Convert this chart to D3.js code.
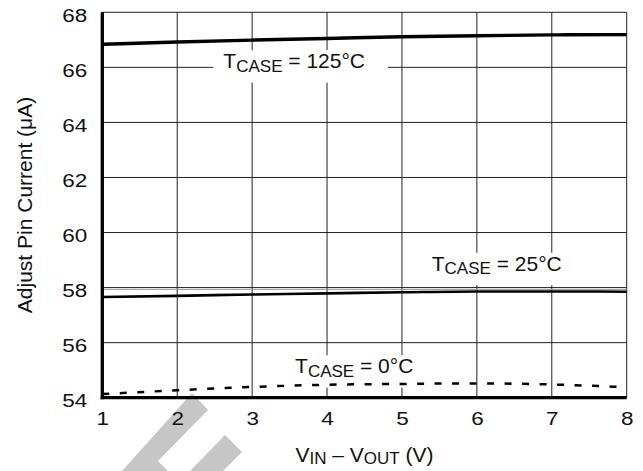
<!DOCTYPE html>
<html>
<head>
<meta charset="utf-8">
<script src="https://cdn.jsdelivr.net/npm/d3@7"></script>
<style>
    body { margin: 0; background: #fff; }
    svg { font-family: "Liberation Sans", Arial, Helvetica, sans-serif; }
</style>
</head>
<body>
<svg id="chart"></svg>
<script>
// values
const vDiff = [1, 2, 3, 4, 5, 6, 7, 8];
const case125 = [66.84, 66.92, 66.99, 67.05, 67.11, 67.15, 67.18, 67.19];
const case25 = [57.66, 57.70, 57.75, 57.79, 57.83, 57.86, 57.86, 57.85];
const case0 = [54.13, 54.27, 54.39, 54.47, 54.50, 54.52, 54.48, 54.38];

const xTicks = [1, 2, 3, 4, 5, 6, 7, 8];
const yTicks = [54, 56, 58, 60, 62, 64, 66, 68];
const noteTemps = ["125°C", "25°C", "0°C"];

const width = 643, height = 471;
const margin = { top: 12.3, right: 16.3, bottom: 73.3, left: 102.3 };

const svg = d3.select("#chart").attr("width", width).attr("height", height);

const x = d3.scaleLinear().domain([1, 8]).range([margin.left, width - margin.right]);
const y = d3.scaleLinear().domain([54, 68]).range([height - margin.bottom, margin.top]);

// faint watermark in the lower left corner
const mark = svg.append("g").attr("fill", "#c6c6c6");
mark.append("polygon").attr("points", "192,393 208,410 158,461 168,471 122,471");
mark.append("polygon").attr("points", "225,435 242,452 223,471 190,471");

// grid
const grid = svg.append("g").attr("stroke", "#222").attr("stroke-width", 1);
grid.selectAll(".h").data(yTicks).join("line")
    .attr("x1", x(1)).attr("x2", x(8))
    .attr("y1", d => y(d)).attr("y2", d => y(d));
grid.selectAll(".v").data(xTicks).join("line")
    .attr("x1", d => x(d)).attr("x2", d => x(d))
    .attr("y1", y(54)).attr("y2", y(68));
// the 58 line is printed doubled in the source
grid.append("line")
    .attr("x1", x(1)).attr("x2", x(8))
    .attr("y1", y(58) + 1.8).attr("y2", y(58) + 1.8)
    .attr("stroke", "#999");

// annotations (white boxes knock out the grid)
const notes = [
    { temp: noteTemps[0], x: 2.616, y: 65.97, padL: 10, padR: 23 },
    { temp: noteTemps[1], x: 5.398, y: 58.61, padL: 6, padR: 6 },
    { temp: noteTemps[2], x: 3.573, y: 54.89, padL: 6, padR: 6 }
];
const boxLayer = svg.append("g");
const lineLayer = svg.append("g");
const textLayer = svg.append("g");

notes.forEach(n => {
    const t = textLayer.append("text")
        .attr("x", x(n.x)).attr("y", y(n.y))
        .attr("font-size", 21).attr("fill", "#111");
    t.append("tspan").text("T");
    t.append("tspan").attr("font-size", 17).attr("dy", 3.4).text("CASE");
    t.append("tspan").attr("dy", -3.4).text(" = " + n.temp);
    const b = t.node().getBBox();
    boxLayer.append("rect")
        .attr("x", b.x - n.padL).attr("y", b.y + 1)
        .attr("width", b.width + n.padL + n.padR).attr("height", b.height + 6)
        .attr("fill", "#fff");
});

// curves
const line = d3.line()
    .x((d, i) => x(vDiff[i]))
    .y(d => y(d))
    .curve(d3.curveMonotoneX);

lineLayer.append("path").datum(case125).attr("d", line)
    .attr("fill", "none").attr("stroke", "#000").attr("stroke-width", 3.4);
lineLayer.append("path").datum(case25).attr("d", line)
    .attr("fill", "none").attr("stroke", "#000").attr("stroke-width", 2.6);
lineLayer.append("path").datum(case0).attr("d", line)
    .attr("fill", "none").attr("stroke", "#000").attr("stroke-width", 2.5)
    .attr("stroke-dasharray", "7,10.5");

// heavy left and bottom axes
svg.append("line")
    .attr("x1", x(1)).attr("x2", x(1)).attr("y1", y(68)).attr("y2", y(54) + 1.6)
    .attr("stroke", "#000").attr("stroke-width", 3.3);
svg.append("line")
    .attr("x1", x(1) - 1.6).attr("x2", x(8)).attr("y1", y(54)).attr("y2", y(54))
    .attr("stroke", "#000").attr("stroke-width", 3.3);

// tick labels
const yAxis = svg.append("g")
    .attr("transform", `translate(${margin.left}, 0)`)
    .call(d3.axisLeft(y).tickValues(yTicks).tickSize(0).tickFormat(d3.format("d")));
yAxis.select(".domain").remove();
yAxis.selectAll("text")
    .attr("x", 0).attr("dy", "9.2")
    .attr("transform", "translate(-15, 0) scale(1.25, 1)")
    .attr("font-size", 18).attr("font-family", null).attr("fill", "#111");

const xAxis = svg.append("g")
    .attr("transform", `translate(0, ${y(54)})`)
    .call(d3.axisBottom(x).tickValues(xTicks).tickSize(0).tickFormat(d3.format("d")));
xAxis.select(".domain").remove();
xAxis.selectAll("text")
    .attr("y", 0).attr("dy", 0)
    .attr("transform", "translate(0, 27.3) scale(1.25, 1)")
    .attr("font-size", 18).attr("font-family", null).attr("fill", "#111");

// axis titles
const xTitle = svg.append("text")
    .attr("x", (x(1) + x(8)) / 2).attr("y", 461.7)
    .attr("text-anchor", "middle").attr("font-size", 21).attr("fill", "#111");
xTitle.append("tspan").text("V");
xTitle.append("tspan").attr("font-size", 17).attr("dy", 2.5).text("IN");
xTitle.append("tspan").attr("dy", -2.5).text(" – V");
xTitle.append("tspan").attr("font-size", 17).attr("dy", 2.5).text("OUT");
xTitle.append("tspan").attr("dy", -2.5).text(" (V)");

svg.append("text")
    .attr("transform", `translate(31.5, ${(y(54) + y(68)) / 2}) rotate(-90)`)
    .attr("text-anchor", "middle").attr("font-size", 21).attr("fill", "#111")
    .text("Adjust Pin Current (μA)");
</script>
</body>
</html>
